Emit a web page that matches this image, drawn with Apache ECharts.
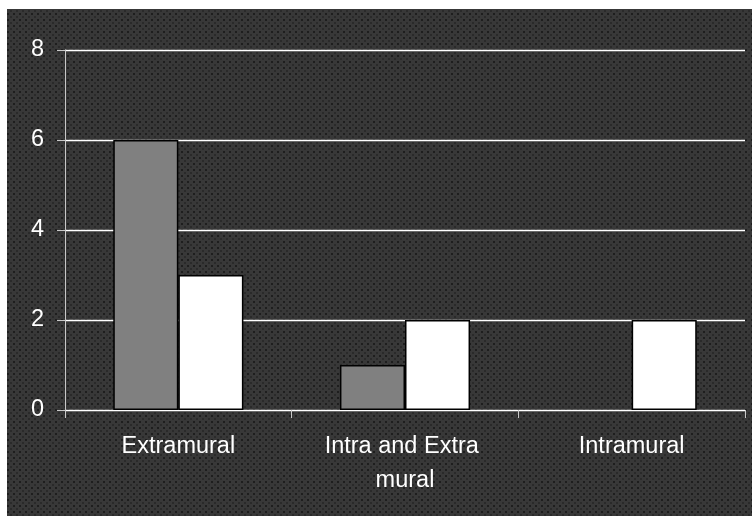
<!DOCTYPE html>
<html>
<head>
<meta charset="utf-8">
<script src="https://cdn.jsdelivr.net/npm/echarts@6/dist/echarts.min.js"></script>
<style>
html,body{margin:0;padding:0;background:#fff;}
#c{width:752px;height:516px;}
</style>
</head>
<body>
<div id="c"></div>
<script>
const categories = ["Extramural", "Intra and Extra mural", "Intramural"];
const seriesGray = [6, 1, 0];
const seriesWhite = [3, 2, 2];
const yTicks = [0, 2, 4, 6, 8];

// dotted dark texture
const pc = document.createElement('canvas');
pc.width = 6; pc.height = 6;
const g = pc.getContext('2d');
g.fillStyle = '#383838';
g.fillRect(0, 0, 6, 6);
g.fillStyle = '#1e1e1e';
g.fillRect(1, 1, 2, 2);
g.fillStyle = '#2a2a2a';
g.fillRect(4, 4, 2, 2);

function buildData(arr, color) {
  return arr.map(v => ({
    value: v,
    itemStyle: { color: color, borderColor: '#000', borderWidth: v === 0 ? 0 : 1.5 }
  }));
}

const chart = echarts.init(document.getElementById('c'), null, { renderer: 'canvas' });
const font = "'Liberation Sans', Arial, sans-serif";
chart.setOption({
  backgroundColor: '#ffffff',
  animation: false,
  graphic: {
    elements: [{
      type: 'rect', silent: true, z: -100,
      shape: { x: 7, y: 9, width: 745, height: 507 },
      style: { fill: { image: pc, repeat: 'repeat' } }
    }]
  },
  grid: { left: 65, right: 7, top: 50, bottom: 106, containLabel: false },
  xAxis: {
    type: 'category',
    data: categories,
    axisLine: { show: true, lineStyle: { color: '#ffffff', width: 1 } },
    axisTick: { show: true, length: 8, lineStyle: { color: '#c8c8c8' } },
    axisLabel: {
      interval: 0, hideOverlap: false,
      color: '#ffffff', fontSize: 23.5, fontFamily: font, margin: 20,
      lineHeight: 34, width: 185, overflow: 'break', align: 'center'
    }
  },
  yAxis: {
    type: 'value',
    min: yTicks[0], max: yTicks[yTicks.length - 1], interval: 2,
    axisLine: { show: true, lineStyle: { color: '#c8c8c8', width: 1 } },
    axisTick: { show: true, length: 8, lineStyle: { color: '#c8c8c8' } },
    axisLabel: { color: '#ffffff', fontSize: 23.5, fontFamily: font, margin: 21 },
    splitLine: { show: true, lineStyle: { color: '#ffffff', width: 1.3 } }
  },
  series: [
    {
      type: 'bar', name: 'A', data: buildData(seriesGray, '#808080'),
      barGap: '0%', barCategoryGap: '42.6%'
    },
    {
      type: 'bar', name: 'B', data: buildData(seriesWhite, '#ffffff'),
      barGap: '0%', barCategoryGap: '42.6%'
    }
  ]
});
</script>
</body>
</html>
